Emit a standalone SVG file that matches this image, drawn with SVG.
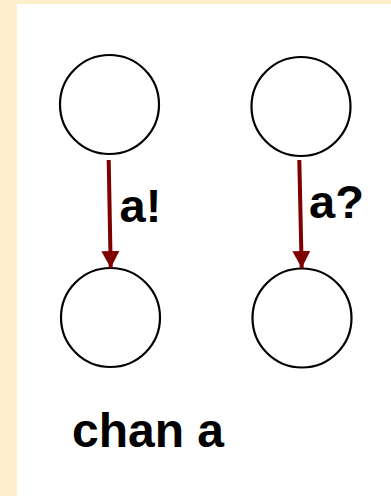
<svg xmlns="http://www.w3.org/2000/svg" width="391" height="496" viewBox="0 0 391 496">
  <defs>
    <marker id="head" markerUnits="userSpaceOnUse" markerWidth="18" markerHeight="18" viewBox="0 0 16 16" refX="15" refY="8" orient="auto">
      <path d="M0,0 L15,8 L0,16 Z" fill="#7f0000"/>
    </marker>
    <style>
      .state { fill: #ffffff; stroke: #000000; stroke-width: 2.2; }
      .edge { stroke: #7f0000; stroke-width: 4; fill: none; marker-end: url(#head); }
      .lbl { font-family: "Liberation Sans", Arial, sans-serif; font-weight: bold; fill: #000000; }
    </style>
  </defs>
  <!-- page frame -->
  <rect x="0" y="0" width="391" height="496" fill="#fdefcb"/>
  <rect x="17" y="4" width="374" height="492" fill="#ffffff"/>

  <g id="s1"><circle class="state" cx="109.5" cy="104.5" r="49.5"/></g>
  <g id="s2"><circle class="state" cx="110.5" cy="317.5" r="49.5"/></g>
  <g id="r1"><circle class="state" cx="301" cy="106.5" r="49.5"/></g>
  <g id="r2"><circle class="state" cx="302" cy="318" r="49.5"/></g>

  <g id="edges">
    <line class="edge" x1="108.7" y1="160" x2="110.7" y2="268"/>
    <line class="edge" x1="299.3" y1="160" x2="301.7" y2="268"/>
  </g>

  <g id="labels">
    <text class="lbl" x="119.5" y="222" font-size="47">a!</text>
    <text class="lbl" x="309" y="218" font-size="47">a?</text>
    <text class="lbl" x="72" y="447" font-size="48">chan a</text>
  </g>
</svg>
